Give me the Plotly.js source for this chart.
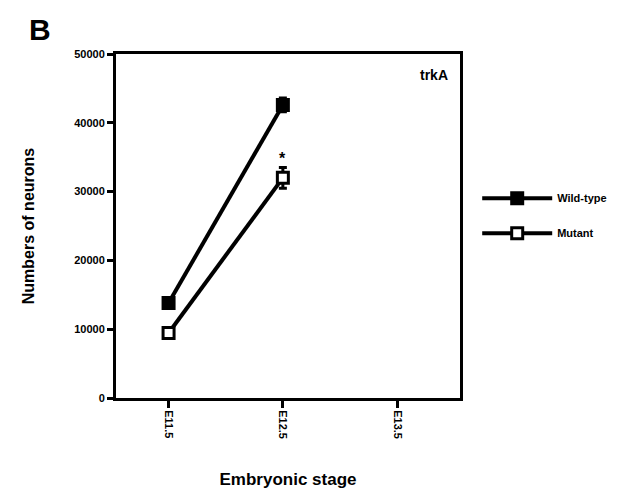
<!DOCTYPE html>
<html><head><meta charset="utf-8">
<script src="https://cdn.plot.ly/plotly-3.0.1.min.js"></script>
<style>body{margin:0;background:#fff}</style>
</head><body>
<div id="chart" style="width:636px;height:499px"></div>
<script>
const stages = ["E11.5", "E12.5", "E13.5"];
const stagePos = [0, 1, 2];
const wildX = [0, 1];
const wildY = [13800, 42600];
const wildErr = [700, 1000];
const mutantX = [0, 1];
const mutantY = [9450, 32000];
const mutantErr = [500, 1500];
const yTicks = [0, 10000, 20000, 30000, 40000, 50000];

const fontF = "Liberation Sans, Arial, sans-serif";
const traces = [
  {x: wildX, y: wildY, name: "Wild-type", mode: "lines+markers", legendgroup: "a",
   line: {color: "#000", width: 4},
   marker: {symbol: "square", size: 12, color: "#000", line: {color: "#000", width: 2}},
   error_y: {type: "data", array: wildErr, color: "#000", thickness: 3, width: 4}},
  {x: mutantX, y: mutantY, name: "Mutant", mode: "lines+markers", legendgroup: "b",
   line: {color: "#000", width: 4},
   marker: {symbol: "square", size: 11, color: "#fff", line: {color: "#000", width: 3}},
   error_y: {type: "data", array: mutantErr, color: "#000", thickness: 3, width: 4}}
];
const layout = {
  width: 636, height: 499,
  margin: {l: 116, r: 176, t: 54, b: 101},
  paper_bgcolor: "#fff", plot_bgcolor: "#fff",
  font: {family: fontF, color: "#000"},
  showlegend: true,
  legend: {x: 1.05, y: 0.53, xanchor: "left", yanchor: "middle", traceorder: "grouped",
    tracegroupgap: 16, itemwidth: 70, font: {size: 11, family: fontF, weight: "bold"},
    bgcolor: "rgba(0,0,0,0)"},
  xaxis: {range: [-0.46, 2.55], tickmode: "array", tickvals: stagePos, ticktext: stages,
    tickangle: 90, ticks: "outside", ticklen: 7, tickwidth: 3, tickcolor: "#000",
    showline: true, mirror: true, linewidth: 3, linecolor: "#000", showgrid: false, zeroline: false,
    tickfont: {size: 11, weight: "bold"},
    title: {text: "Embryonic stage", font: {size: 17, weight: "bold"}, standoff: 36}},
  yaxis: {range: [0, 50000], tickmode: "array", tickvals: yTicks, ticktext: yTicks.map(String),
    ticks: "outside", ticklen: 6, tickwidth: 3, tickcolor: "#000",
    showline: true, mirror: true, linewidth: 3, linecolor: "#000", showgrid: false, zeroline: false,
    tickfont: {size: 11, weight: "bold"},
    title: {text: "Numbers of neurons", font: {size: 16, weight: "bold"}, standoff: 36}},
  annotations: [
    {text: "B", xref: "paper", yref: "paper", x: -0.26, y: 1.07, xanchor: "left", yanchor: "middle",
     showarrow: false, font: {size: 30, weight: "bold"}},
    {text: "trkA", xref: "paper", yref: "paper", x: 0.97, y: 0.94, xanchor: "right", yanchor: "middle",
     showarrow: false, font: {size: 14, weight: "bold"}},
    {text: "*", xref: "x", yref: "y", x: 1, y: 34800, showarrow: false, font: {size: 16, weight: "bold"}}
  ]
};
Plotly.newPlot("chart", traces, layout, {displayModeBar: false});
</script>
</body></html>
